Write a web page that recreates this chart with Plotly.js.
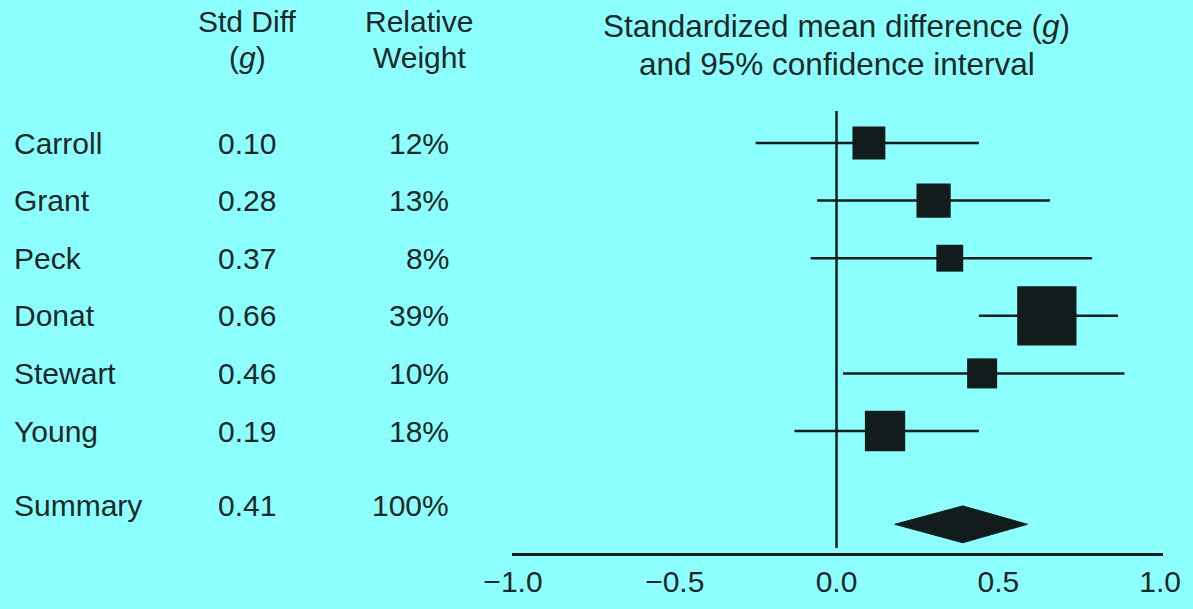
<!DOCTYPE html>
<html>
<head>
<meta charset="utf-8">
<script src="https://cdn.plot.ly/plotly-3.0.1.min.js"></script>
<style>html,body{margin:0;padding:0;background:#8cffff;}#chart{width:1193px;height:609px;}</style>
</head>
<body>
<div id="chart"></div>
<script>
// ---- data ----
var studies   = ["Carroll", "Grant", "Peck", "Donat", "Stewart", "Young"];
var stdDiff   = ["0.10", "0.28", "0.37", "0.66", "0.46", "0.19"];   // printed column
var weightPct = [12, 13, 8, 39, 10, 18];                              // relative weight (%)
var pointEst  = [0.10, 0.30, 0.35, 0.65, 0.45, 0.15];                 // plotted square centres
var ciLow     = [-0.25, -0.06, -0.08, 0.44, 0.02, -0.13];
var ciHigh    = [0.44, 0.66, 0.79, 0.87, 0.89, 0.44];
var summaryLabel = "Summary";
var summaryStd   = "0.41";
var summaryWeight = 100;
var summaryEst  = 0.39;
var summaryLow  = 0.18;
var summaryHigh = 0.59;
var tickVals   = [-1.0, -0.5, 0.0, 0.5, 1.0];
var tickLabels = ["\u22121.0", "\u22120.5", "0.0", "0.5", "1.0"];
var headStd    = ["Std Diff", "(<i>g</i>)"];
var headWeight = ["Relative", "Weight"];
var headTitle  = ["Standardized mean difference (<i>g</i>)", "and 95% confidence interval"];

// ---- styling ----
var INK = "#121c1c";
var TXT = "#1c2828";
var BG = "#8cffff";
var FONT = "Liberation Sans, Arial, sans-serif";
var FS = 30;

var rows = studies.map(function (_, i) { return i; });
var summaryRowText = 6.30;
var summaryRowMark = 6.62;
var diamondHalf = 0.32;

var forest = {
  type: "scatter", mode: "markers",
  x: pointEst, y: rows,
  opacity: 1,
  marker: {symbol: "square", color: INK, opacity: 1,
           size: weightPct.map(function (w) { return 9.5 * Math.sqrt(w); }),
           line: {width: 0}},
  error_x: {type: "data", symmetric: false,
            array: ciHigh.map(function (h, i) { return h - pointEst[i]; }),
            arrayminus: ciLow.map(function (l, i) { return pointEst[i] - l; }),
            color: INK, thickness: 2.5, width: 0},
  hoverinfo: "skip", showlegend: false
};

var diamond = {
  type: "scatter", mode: "lines", fill: "toself", fillcolor: INK,
  x: [summaryLow, summaryEst, summaryHigh, summaryEst, summaryLow],
  y: [summaryRowMark, summaryRowMark - diamondHalf, summaryRowMark, summaryRowMark + diamondHalf, summaryRowMark],
  line: {color: INK, width: 1},
  hoverinfo: "skip", showlegend: false
};

var L = 512, R = 30, T = 100, B = 56, H = 609;
var plotW = 1193 - L - R;
var plotH = H - T - B;
function px2paperX(p) { return (p - L) / plotW; }
function px2paperY(p) { return (H - B - p) / plotH; }

var annotations = [];
function addRow(name, sd, w, yv) {
  annotations.push({xref: "paper", yref: "y", x: px2paperX(12), y: yv, text: name,
    xanchor: "left", yanchor: "middle", showarrow: false});
  annotations.push({xref: "paper", yref: "y", x: px2paperX(247), y: yv, text: sd,
    xanchor: "center", yanchor: "middle", showarrow: false});
  annotations.push({xref: "paper", yref: "y", x: px2paperX(451), y: yv, text: w + "%",
    xanchor: "right", yanchor: "middle", showarrow: false});
}
studies.forEach(function (s, i) { addRow(s, stdDiff[i], weightPct[i], rows[i]); });
addRow(summaryLabel, summaryStd, summaryWeight, summaryRowText);

function addHead(lines, xref, xv, ys, size) {
  lines.forEach(function (t, k) {
    annotations.push({xref: xref, yref: "paper", x: xv, y: px2paperY(ys[k]),
      text: t, xanchor: "center", yanchor: "middle", showarrow: false,
      font: {family: FONT, size: size, color: TXT}});
  });
}
addHead(headStd, "paper", px2paperX(247), [21, 58], FS);
addHead(headWeight, "paper", px2paperX(419), [21, 58], FS);
addHead(headTitle, "x", 0, [26, 64], 31.5);

var layout = {
  width: 1193, height: 609,
  paper_bgcolor: BG, plot_bgcolor: BG,
  margin: {l: L, r: R, t: T, b: B, pad: 0},
  font: {family: FONT, size: FS, color: TXT},
  showlegend: false,
  xaxis: {range: [-1.003, 1.009], showgrid: false, zeroline: false,
          showline: true, linecolor: INK, linewidth: 2.5,
          tickmode: "array", tickvals: tickVals, ticktext: tickLabels,
          ticks: "", tickfont: {family: FONT, size: FS, color: TXT},
          fixedrange: true},
  yaxis: {range: [7.118, -0.7465], showgrid: false, zeroline: false,
          showline: false, showticklabels: false, ticks: "", fixedrange: true},
  shapes: [{type: "line", xref: "x", yref: "y", x0: 0, x1: 0, y0: -0.556, y1: 7.03,
            line: {color: INK, width: 2.5}}],
  annotations: annotations
};

Plotly.newPlot("chart", [forest, diamond], layout, {staticPlot: true, displayModeBar: false});
</script>
</body>
</html>
